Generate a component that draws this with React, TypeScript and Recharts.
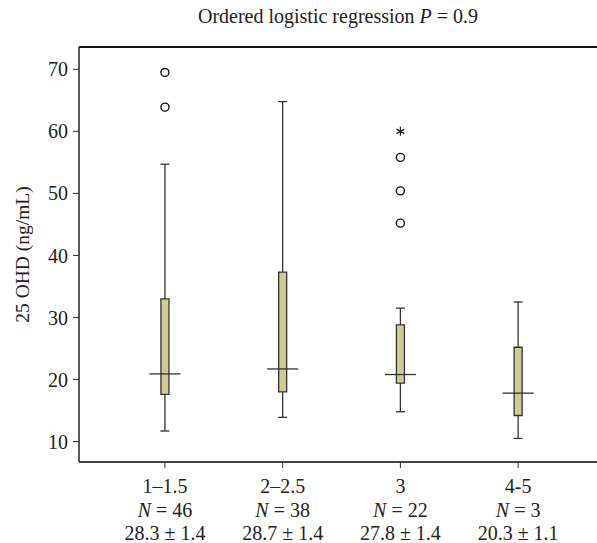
import React from 'react';
import {
  ComposedChart,
  XAxis,
  YAxis,
  Scatter,
  ReferenceArea,
  ReferenceLine,
} from 'recharts';

// ---- data ----
const categories = ['1–1.5', '2–2.5', '3', '4-5'];
const groupN = [46, 38, 22, 3];
const meanLabels = ['28.3 ± 1.4', '28.7 ± 1.4', '27.8 ± 1.4', '20.3 ± 1.1'];
const whiskerLow = [11.7, 13.9, 14.8, 10.5];
const q1 = [17.6, 18.0, 19.4, 14.2];
const median = [20.9, 21.7, 20.8, 17.8];
const q3 = [33.0, 37.3, 28.8, 25.2];
const whiskerHigh = [54.7, 64.8, 31.5, 32.5];
const outliers = [
  { x: 1, y: 69.5 },
  { x: 1, y: 63.9 },
  { x: 3, y: 55.8 },
  { x: 3, y: 50.4 },
  { x: 3, y: 45.2 },
];
const extremes = [{ x: 3, y: 60.0 }];
const yTicks = [10, 20, 30, 40, 50, 60, 70];
const xTicks = [1, 2, 3, 4];

const Y_DOMAIN: [number, number] = [6.7, 73.6];
const X_DOMAIN: [number, number] = [0.27, 4.67];
const BOX_HALF = 0.034;
const MED_HALF = 0.132;
const CAP_HALF = 0.038;

const FONT = '"Liberation Serif", "Times New Roman", serif';
const DARK = '#333';
const FILL = '#cfcb98';

const XTick = (props: any) => {
  const { x, y, payload } = props;
  const i = xTicks.indexOf(payload.value);
  if (i < 0) return null;
  return (
    <text x={x} y={y} textAnchor="middle" fontFamily={FONT} fontSize={20} fill="#222">
      <tspan x={x} dy={23}>{categories[i]}</tspan>
      <tspan x={x} dy={24}>
        <tspan fontStyle="italic">N</tspan> = {groupN[i]}
      </tspan>
      <tspan x={x} dy={23}>{meanLabels[i]}</tspan>
    </text>
  );
};

const YLabel = (props: any) => {
  const vb = props.viewBox || { x: 0, y: 47, width: 79, height: 415 };
  const cx = 22;
  const cy = vb.y + vb.height / 2;
  return (
    <text
      x={cx}
      y={cy}
      transform={`rotate(-90 ${cx} ${cy})`}
      textAnchor="middle"
      dominantBaseline="central"
      fontFamily={FONT}
      fontSize={19.5}
      fill="#222"
    >
      25 OHD (ng/mL)
    </text>
  );
};

const Circle = (props: any) => {
  const { cx, cy } = props;
  return <circle cx={cx} cy={cy} r={4} fill="#fff" stroke="#111" strokeWidth={1.4} />;
};

const Star = (props: any) => {
  const { cx, cy } = props;
  const r = 4.5;
  const lines = [0, 60, 120].map((a) => {
    const rad = ((a + 90) * Math.PI) / 180;
    const dx = r * Math.cos(rad);
    const dy = r * Math.sin(rad);
    return <line key={a} x1={cx - dx} y1={cy - dy} x2={cx + dx} y2={cy + dy} stroke="#222" strokeWidth={1.2} />;
  });
  return <g>{lines}</g>;
};

export default function App() {
  return (
    <div style={{ position: 'absolute', left: 0, top: 0, width: 597, height: 543, background: '#fff' }}>
      <div
        style={{
          position: 'absolute',
          left: 79,
          width: 518,
          top: 5,
          textAlign: 'center',
          fontFamily: FONT,
          fontSize: 20,
          color: '#222',
        }}
      >
        Ordered logistic regression <i>P</i> = 0.9
      </div>
      <ComposedChart width={597} height={543} margin={{ top: 47, right: 0, bottom: 0, left: 0 }}>
        <XAxis
          type="number"
          dataKey="x"
          domain={X_DOMAIN}
          ticks={xTicks}
          allowDataOverflow
          height={81}
          tick={<XTick />}
          tickSize={6}
          tickLine={{ stroke: DARK }}
          axisLine={{ stroke: '#444', strokeWidth: 2 }}
        />
        <YAxis
          type="number"
          dataKey="y"
          domain={Y_DOMAIN}
          ticks={yTicks}
          allowDataOverflow
          width={79}
          tickSize={6}
          tickLine={{ stroke: DARK }}
          axisLine={{ stroke: '#222', strokeWidth: 1.5 }}
          tick={{ fontFamily: FONT, fontSize: 20, fill: '#222', dx: -3 }}
          label={<YLabel />}
        />
        <ReferenceLine y={Y_DOMAIN[1]} stroke="#111" strokeWidth={2} ifOverflow="extendDomain" />
        {xTicks.map((c, i) => (
          <ReferenceLine
            key={`wl${i}`}
            segment={[{ x: c, y: whiskerLow[i] }, { x: c, y: q1[i] }]}
            stroke={DARK}
            strokeWidth={1.3}
          />
        ))}
        {xTicks.map((c, i) => (
          <ReferenceLine
            key={`wh${i}`}
            segment={[{ x: c, y: q3[i] }, { x: c, y: whiskerHigh[i] }]}
            stroke={DARK}
            strokeWidth={1.3}
          />
        ))}
        {xTicks.map((c, i) => (
          <ReferenceLine
            key={`cl${i}`}
            segment={[{ x: c - CAP_HALF, y: whiskerLow[i] }, { x: c + CAP_HALF, y: whiskerLow[i] }]}
            stroke={DARK}
            strokeWidth={1.3}
          />
        ))}
        {xTicks.map((c, i) => (
          <ReferenceLine
            key={`ch${i}`}
            segment={[{ x: c - CAP_HALF, y: whiskerHigh[i] }, { x: c + CAP_HALF, y: whiskerHigh[i] }]}
            stroke={DARK}
            strokeWidth={1.3}
          />
        ))}
        {xTicks.map((c, i) => (
          <ReferenceArea
            key={`box${i}`}
            x1={c - BOX_HALF}
            x2={c + BOX_HALF}
            y1={q1[i]}
            y2={q3[i]}
            fill={FILL}
            fillOpacity={1}
            stroke={DARK}
            strokeWidth={1.3}
          />
        ))}
        {xTicks.map((c, i) => (
          <ReferenceLine
            key={`med${i}`}
            segment={[{ x: c - MED_HALF, y: median[i] }, { x: c + MED_HALF, y: median[i] }]}
            stroke={DARK}
            strokeWidth={1.3}
          />
        ))}
        <Scatter data={outliers} shape={<Circle />} isAnimationActive={false} />
        <Scatter data={extremes} shape={<Star />} isAnimationActive={false} />
      </ComposedChart>
    </div>
  );
}
